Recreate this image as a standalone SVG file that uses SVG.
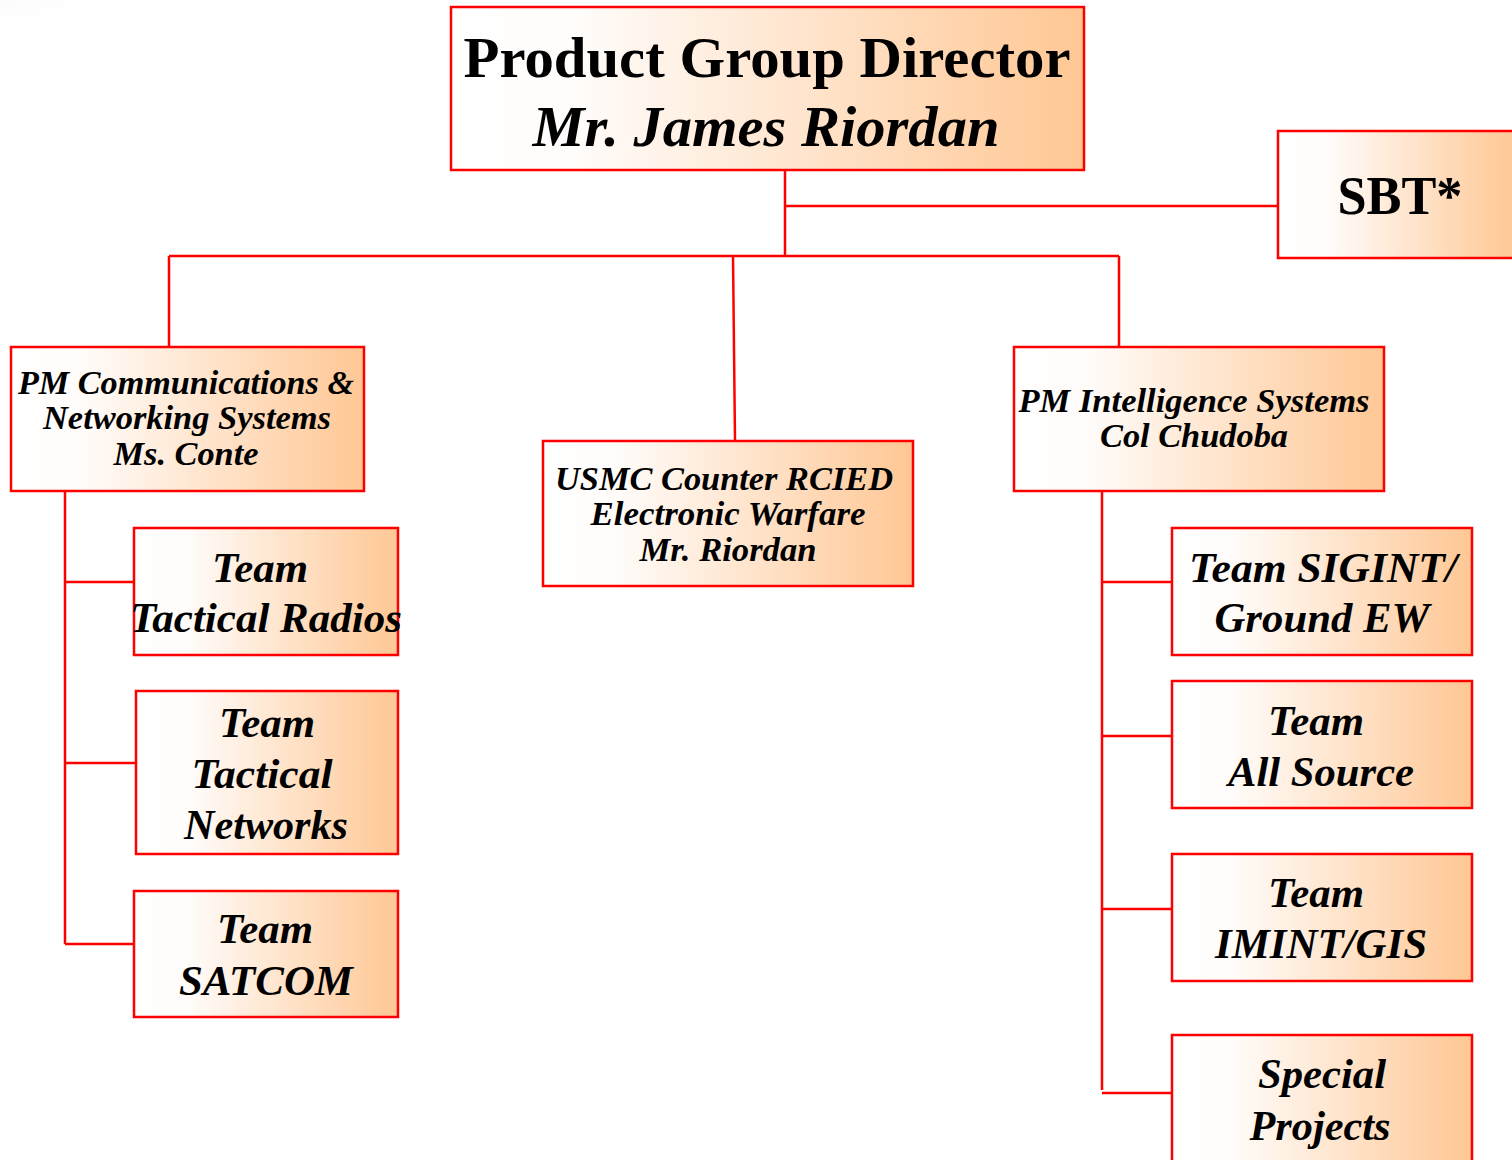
<svg xmlns="http://www.w3.org/2000/svg" width="1512" height="1160" viewBox="0 0 1512 1160">
<defs>
<linearGradient id="fill" x1="0" y1="0" x2="1" y2="0">
<stop offset="0" stop-color="#FFFFFF"/>
<stop offset="0.2" stop-color="#FFFCFA"/>
<stop offset="1" stop-color="#FFC794"/>
</linearGradient>
<radialGradient id="shade" cx="0" cy="0" r="1">
<stop offset="0" stop-color="#D8D8D8"/>
<stop offset="1" stop-color="#FFFFFF" stop-opacity="0"/>
</radialGradient>
<style>
.box{fill:url(#fill);stroke:#FF0000;stroke-width:2.5}
.ln{stroke:#FF0000;stroke-width:2.5;fill:none}
text{font-family:"Liberation Serif","Times New Roman",serif;font-weight:bold;text-anchor:middle;fill:#000}
.it{font-style:italic}
.s1{font-size:33px}
.s2{font-size:43px}
</style>
</defs>
<rect x="0" y="0" width="1512" height="1160" fill="#FFFFFF"/>
<ellipse cx="0" cy="0" rx="230" ry="60" fill="url(#shade)"/>
<g id="connectors">
<path class="ln" d="M785 170V256M785 206H1278M169 256H1119M169 256V347M733 256L735 441M1119 256V347"/>
<path class="ln" d="M65 491V944M65 582H134M65 763H136M65 944H134"/>
<path class="ln" d="M1102 491V1090M1102 582H1172M1102 736H1172M1102 909H1172M1102 1093H1172"/>
</g>
<g id="director">
<rect class="box" x="451" y="7" width="633" height="163"/>
<text x="767" y="77" style="font-size:58px" textLength="607" lengthAdjust="spacingAndGlyphs">Product Group Director</text>
<text x="766" y="146" class="it" style="font-size:58px" textLength="467" lengthAdjust="spacingAndGlyphs">Mr. James Riordan</text>
</g>
<g id="sbt">
<rect class="box" x="1278" y="131" width="240" height="127"/>
<text x="1400" y="214" style="font-size:54px" textLength="125" lengthAdjust="spacingAndGlyphs">SBT*</text>
</g>
<g id="pm-comm">
<rect class="box" x="11" y="347" width="353" height="144"/>
<text x="186" y="394" class="it s1" textLength="336" lengthAdjust="spacingAndGlyphs">PM Communications &amp;</text>
<text x="187" y="429" class="it s1" textLength="288" lengthAdjust="spacingAndGlyphs">Networking Systems</text>
<text x="186" y="465" class="it s1" textLength="145" lengthAdjust="spacingAndGlyphs">Ms. Conte</text>
</g>
<g id="usmc">
<rect class="box" x="543" y="441" width="370" height="145"/>
<text x="724" y="490" class="it s1" textLength="338" lengthAdjust="spacingAndGlyphs">USMC Counter RCIED</text>
<text x="728" y="525" class="it s1" textLength="275" lengthAdjust="spacingAndGlyphs">Electronic Warfare</text>
<text x="728" y="561" class="it s1" textLength="177" lengthAdjust="spacingAndGlyphs">Mr. Riordan</text>
</g>
<g id="pm-intel">
<rect class="box" x="1014" y="347" width="370" height="144"/>
<text x="1194" y="412" class="it s1" textLength="351" lengthAdjust="spacingAndGlyphs">PM Intelligence Systems</text>
<text x="1194" y="447" class="it s1" textLength="188" lengthAdjust="spacingAndGlyphs">Col Chudoba</text>
</g>
<g id="team-radios">
<rect class="box" x="134" y="528" width="264" height="127"/>
<text x="260" y="582" class="it s2" textLength="96" lengthAdjust="spacingAndGlyphs">Team</text>
<text x="266" y="632" class="it s2" textLength="272" lengthAdjust="spacingAndGlyphs">Tactical Radios</text>
</g>
<g id="team-networks">
<rect class="box" x="136" y="691" width="262" height="163"/>
<text x="267" y="737" class="it s2" textLength="96" lengthAdjust="spacingAndGlyphs">Team</text>
<text x="262" y="788" class="it s2" textLength="141" lengthAdjust="spacingAndGlyphs">Tactical</text>
<text x="266" y="839" class="it s2" textLength="164" lengthAdjust="spacingAndGlyphs">Networks</text>
</g>
<g id="team-satcom">
<rect class="box" x="134" y="891" width="264" height="126"/>
<text x="265" y="943" class="it s2" textLength="96" lengthAdjust="spacingAndGlyphs">Team</text>
<text x="266" y="995" class="it s2" textLength="174" lengthAdjust="spacingAndGlyphs">SATCOM</text>
</g>
<g id="team-sigint">
<rect class="box" x="1172" y="528" width="300" height="127"/>
<text x="1323" y="582" class="it s2" textLength="268" lengthAdjust="spacingAndGlyphs">Team SIGINT/</text>
<text x="1322" y="632" class="it s2" textLength="215" lengthAdjust="spacingAndGlyphs">Ground EW</text>
</g>
<g id="team-allsource">
<rect class="box" x="1172" y="681" width="300" height="127"/>
<text x="1316" y="735" class="it s2" textLength="96" lengthAdjust="spacingAndGlyphs">Team</text>
<text x="1321" y="786" class="it s2" textLength="186" lengthAdjust="spacingAndGlyphs">All Source</text>
</g>
<g id="team-imint">
<rect class="box" x="1172" y="854" width="300" height="127"/>
<text x="1316" y="907" class="it s2" textLength="96" lengthAdjust="spacingAndGlyphs">Team</text>
<text x="1321" y="958" class="it s2" textLength="212" lengthAdjust="spacingAndGlyphs">IMINT/GIS</text>
</g>
<g id="special-projects">
<rect class="box" x="1172" y="1035" width="300" height="140"/>
<text x="1322" y="1088" class="it s2" textLength="128" lengthAdjust="spacingAndGlyphs">Special</text>
<text x="1320" y="1140" class="it s2" textLength="141" lengthAdjust="spacingAndGlyphs">Projects</text>
</g>
</svg>
